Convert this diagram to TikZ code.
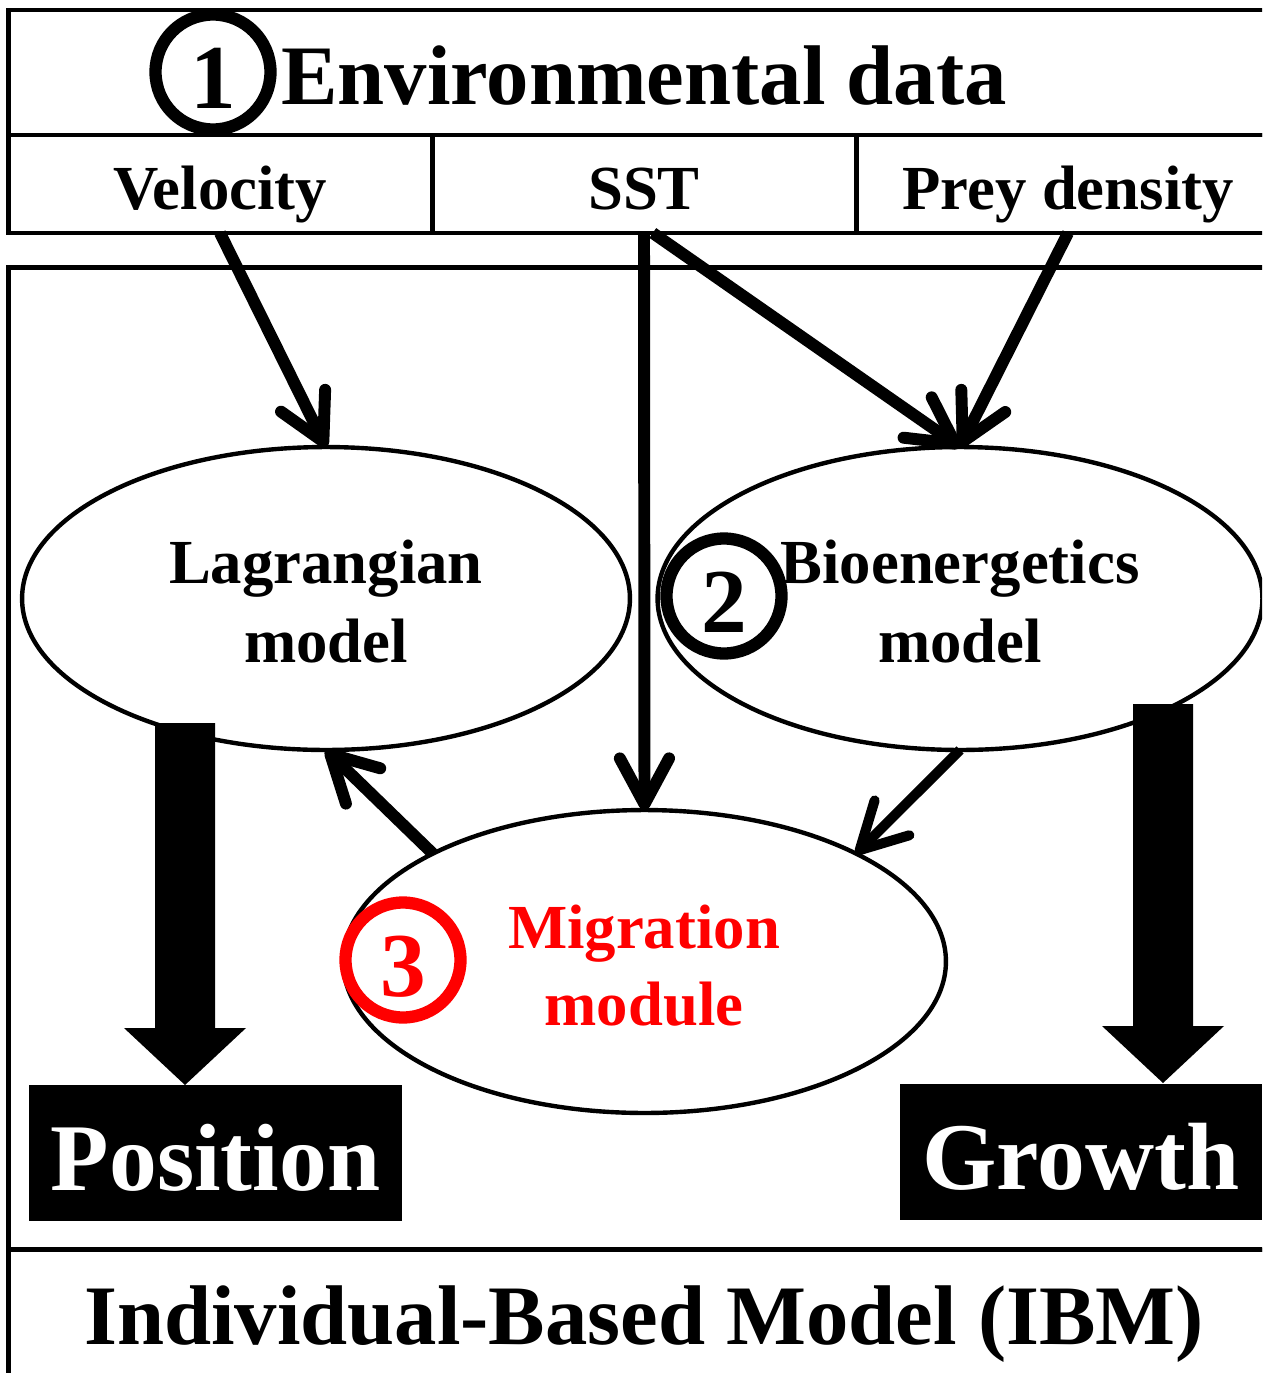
\documentclass[tikz,border=0pt]{standalone}
\usepackage{fontspec}
\setmainfont{Liberation Serif}
\usetikzlibrary{arrows.meta,shapes.geometric}
\begin{document}
\begin{tikzpicture}[x=0.02cm,y=-0.02cm,
  frame/.style={draw,line width=2.8pt,rectangle,inner sep=0,outer sep=0},
  cell/.style={frame,minimum width=8.48cm,minimum height=1.96cm,font=\fontsize{35.7}{40}\selectfont\bfseries,text height=34pt,text depth=4.5pt},
  ell/.style={draw,ellipse,line width=2.5pt,inner sep=0,outer sep=0,minimum height=6.06cm},
  etext/.style={anchor=base,font=\fontsize{35.7}{40}\selectfont\bfseries,inner sep=0},
  num/.style={circle,draw,fill=white,line width=7pt,inner sep=0,minimum size=2.3cm,font=\fontsize{52}{60}\selectfont\bfseries,text height=41pt,text depth=0pt},
  arr/.style={line width=6.8pt,-{Straight Barb[length=26pt,width=28pt,round]}},
  outbox/.style={fill=black,text=white,inner sep=0,outer sep=0,font=\fontsize{54.4}{60}\selectfont\bfseries,text height=45pt,text depth=2pt,minimum height=2.72cm},
  blockarrow/.style={fill=black}
]
\useasboundingbox (0,0) rectangle (1262,1373);
\clip (0,0) rectangle (1262,1373);

% header
\node[frame,minimum width=25.44cm,minimum height=2.5cm,font=\fontsize{48.2}{56}\selectfont\bfseries,text height=40pt,text depth=3.2pt] (env) at (644,72.5) {Environmental data};
\node[cell] (vel) at (220,184) {Velocity};
\node[cell] (sst) at (644,184) {SST};
\node[cell] (prey) at (1068,184) {Prey density};

% IBM frame
\node[frame,minimum width=25.44cm,minimum height=19.66cm] (ibmarea) at (644,758.5) {};
\node[frame,minimum width=25.44cm,minimum height=3cm,font=\fontsize{48.2}{56}\selectfont\bfseries,text height=36pt,text depth=13.3pt] (ibm) at (644,1325) {Individual-Based Model (IBM)};

% ellipses
\node[ell,minimum width=12.16cm] (lag) at (326,598.5) {};
\node[ell,minimum width=12.1cm] (bio) at (960,598.5) {};
\node[ell,minimum width=12.06cm] (mig) at (644.5,961.5) {};

% connectors
\draw[arr] (vel.south) -- (lag.north);
\draw[arr] (sst.south) -- (mig.north);
\draw[arr] ([xshift=5pt]sst.south) -- (bio.north);
\draw[arr] (prey.south) -- (bio.north);
\draw[arr] (mig.153) -- (lag.south);
\draw[arr,line width=5.7pt] (bio.south) -- (mig.27);

% output boxes
\node[outbox,minimum width=7.46cm] (pos) at (215.5,1153) {Position};
\node[outbox,minimum width=7.24cm] (gro) at (1081,1151.5) {Growth};

% block arrows
\coordinate (ltip) at (185,1085);
\fill[blockarrow] (ltip) -- ++(-61,-57) -- ++(31,0) -- ++(0,-305) -- ++(60,0) -- ++(0,305) -- ++(31,0) -- cycle;
\coordinate (rtip) at (1163,1083);
\fill[blockarrow] (rtip) -- ++(-61,-57) -- ++(31,0) -- ++(0,-322) -- ++(60,0) -- ++(0,322) -- ++(31,0) -- cycle;

% numbered circles
\node[num] (c1) at (213,72) {1};
\node[num] (c2) at (724,596) {2};
\node[num,draw=red,text=red] (c3) at (403,960) {3};

% ellipse texts
\node[etext] (lagt1) at (326,583) {Lagrangian};
\node[etext] (lagt2) at (326,662) {model};
\node[etext] (biot1) at (960,583) {Bioenergetics};
\node[etext] (biot2) at (960,662) {model};
\node[etext,text=red] (migt1) at (644,948) {Migration};
\node[etext,text=red] (migt2) at (644,1025) {module};
\end{tikzpicture}
\end{document}
